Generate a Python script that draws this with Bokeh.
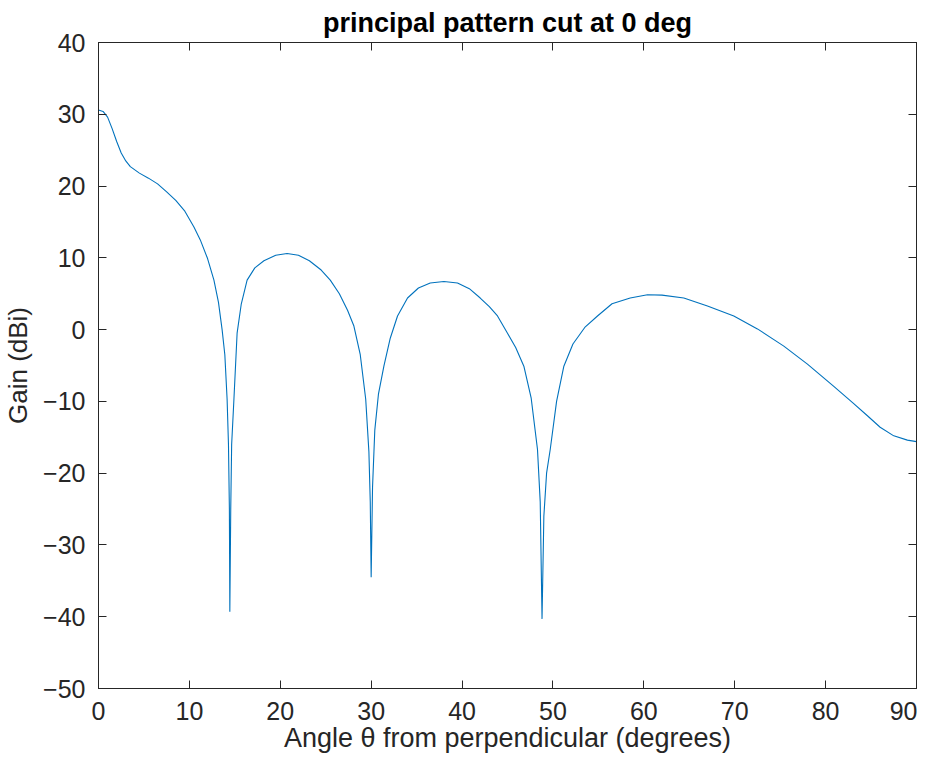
from bokeh.plotting import figure
from bokeh.models import Range1d, LinearAxis, FixedTicker, ColumnDataSource
from bokeh.embed import file_html
from bokeh.resources import INLINE

# ---- data ----
angle_deg = [0.0, 0.5, 1.0, 1.5, 2.0, 2.5, 3.0, 3.5, 4.5, 5.5, 6.5, 7.5, 8.5, 9.5,
             10.5, 11.2, 12.0, 12.7, 13.2, 13.6, 13.9, 14.15, 14.3, 14.4, 14.45,
             14.55, 14.65, 14.9, 15.25, 15.7, 16.35, 17.2, 18.2, 19.5, 20.75,
             22.0, 23.2, 24.5, 25.5, 26.5, 27.4, 28.1, 28.8, 29.4, 29.75, 29.9,
             30.0, 30.15, 30.4, 30.8, 31.4, 32.1, 32.9, 34.0, 35.2, 36.5, 38.0,
             39.5, 40.8, 42.0, 43.0, 43.9, 45.0, 45.9, 46.8, 47.6, 48.3, 48.6,
             48.8, 49.0, 49.3, 49.7, 50.4, 51.2, 52.2, 53.5, 54.9, 56.5, 58.5,
             60.4, 62.0, 64.4, 67.0, 69.9, 72.5, 75.4, 78.0, 80.9, 83.0, 84.6,
             86.0, 87.5, 89.0, 90.0]
gain_dbi = [30.6, 30.4, 29.6, 28.0, 26.2, 24.6, 23.5, 22.7, 21.8, 21.1, 20.3, 19.2,
            18.0, 16.5, 14.3, 12.5, 9.9, 6.9, 3.8, 0.0, -3.5, -9.7, -16.0, -25.0,
            -39.3, -25.0, -16.0, -9.7, -0.5, 3.5, 6.9, 8.6, 9.6, 10.35, 10.6,
            10.35, 9.6, 8.3, 6.9, 5.0, 2.7, 0.5, -3.5, -9.7, -17.0, -24.0,
            -34.5, -22.0, -14.0, -9.0, -5.1, -1.2, 1.9, 4.4, 5.8, 6.5, 6.7,
            6.5, 5.7, 4.4, 3.2, 1.9, -0.5, -2.5, -5.1, -9.5, -16.7, -24.0,
            -40.3, -26.0, -20.0, -16.7, -10.0, -5.1, -2.0, 0.3, 1.9, 3.6, 4.4,
            4.85, 4.8, 4.4, 3.3, 1.9, 0.1, -2.3, -4.8, -7.9, -10.2, -12.0,
            -13.6, -14.8, -15.4, -15.6]

x_ticks = [0, 10, 20, 30, 40, 50, 60, 70, 80, 90]
y_ticks = [-50, -40, -30, -20, -10, 0, 10, 20, 30, 40]

title_text = "principal pattern cut at 0 deg"
x_label = "Angle \u03b8 from perpendicular (degrees)"
y_label = "Gain (dBi)"

FONT = "Liberation Sans"
AX = "#262626"

src = ColumnDataSource(data=dict(x=angle_deg, y=gain_dbi))

p = figure(width=917, height=755, output_backend="svg", toolbar_location=None,
           x_range=Range1d(0, 90), y_range=Range1d(-50, 40),
           x_axis_location=None, y_axis_location=None,
           min_border_left=90, min_border_right=1, min_border_top=34,
           min_border_bottom=65)

p.title.text = title_text
p.title.align = "center"
p.title.text_font = FONT
p.title.text_font_size = "27px"
p.title.text_font_style = "bold"
p.title.text_color = "#000000"

p.grid.visible = False
p.outline_line_color = AX
p.outline_line_width = 1
p.background_fill_color = "white"
p.border_fill_color = "white"

def style(ax, show_labels):
    ax.major_tick_in = 8
    ax.major_tick_out = 0
    ax.minor_tick_in = 0
    ax.minor_tick_out = 0
    ax.axis_line_color = AX
    ax.major_tick_line_color = AX
    ax.major_label_text_font = FONT
    ax.major_label_text_font_size = "25px"
    ax.major_label_text_color = AX
    ax.axis_label_text_font = FONT
    ax.axis_label_text_font_size = "26px"
    ax.axis_label_text_font_style = "normal"
    ax.axis_label_text_color = AX
    if not show_labels:
        ax.major_label_text_font_size = "0px"
        ax.major_label_standoff = 0
        ax.major_label_text_alpha = 0

xb = LinearAxis(ticker=FixedTicker(ticks=x_ticks), axis_label=x_label)
style(xb, True)
xb.major_label_standoff = 13
xb.axis_label_standoff = 0
xb.axis_label_text_font_size = "27px"
p.add_layout(xb, "below")

yl = LinearAxis(ticker=FixedTicker(ticks=y_ticks), axis_label=y_label)
style(yl, True)
yl.major_label_standoff = 13
yl.axis_label_standoff = 7
p.add_layout(yl, "left")

xt = LinearAxis(ticker=FixedTicker(ticks=x_ticks))
style(xt, False)
p.add_layout(xt, "above")

yr = LinearAxis(ticker=FixedTicker(ticks=y_ticks))
style(yr, False)
p.add_layout(yr, "right")

p.line("x", "y", source=src, line_color="#0072BD", line_width=1.1)

open("out.html", "w").write(file_html(p, INLINE))
